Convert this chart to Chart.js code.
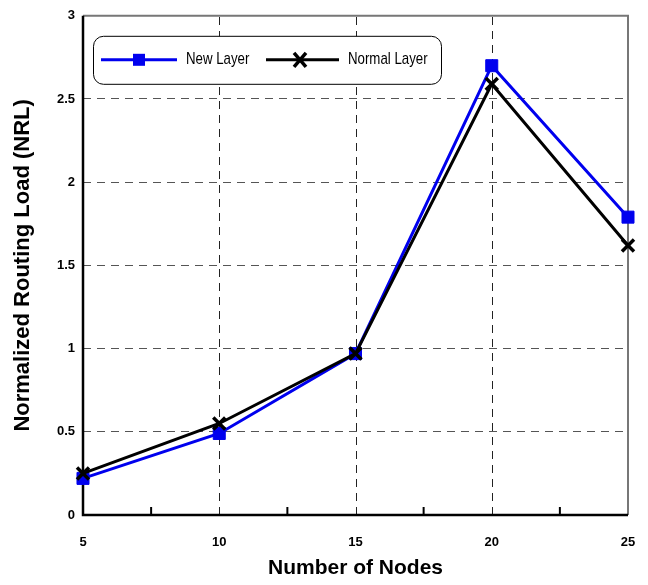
<!DOCTYPE html>
<html>
<head>
<meta charset="utf-8">
<script src="https://cdn.jsdelivr.net/npm/chart.js@4"></script>
<style>
  html, body { margin: 0; padding: 0; background: #fff; }
  #wrap { width: 648px; height: 585px; }
</style>
</head>
<body>
<div id="wrap"><canvas id="nrlChart"></canvas></div>
<script>
const nodes = [5, 10, 15, 20, 25];
const newLayer = [0.22, 0.49, 0.97, 2.70, 1.79];
const normalLayer = [0.25, 0.55, 0.97, 2.59, 1.62];
const seriesNames = ['New Layer', 'Normal Layer'];
const xLabels = [5, 10, 15, 20, 25];

const BLUE = '#0000ee';

// narrow text helper (no condensed font installed)
function narrowText(ctx, txt, x, y, sx) {
  ctx.save();
  ctx.translate(x, y);
  ctx.scale(sx, 1);
  ctx.fillText(txt, 0, 0);
  ctx.restore();
}

// frame, inward x ticks and the in-plot legend
const framePlugin = {
  id: 'frame',
  beforeDatasetsDraw(chart) {
    const { ctx, chartArea: a, scales } = chart;
    ctx.save();
    // dashed vertical grid at major ticks
    ctx.strokeStyle = '#222';
    ctx.lineWidth = 1;
    ctx.setLineDash([8, 6]);
    [10, 15, 20].forEach(v => {
      const x = Math.round(scales.x.getPixelForValue(v)) + 0.5;
      ctx.beginPath();
      ctx.moveTo(x, a.bottom);
      ctx.lineTo(x, a.top);
      ctx.stroke();
    });
    ctx.setLineDash([]);
    // top and right border
    ctx.strokeStyle = '#777';
    ctx.lineWidth = 2;
    ctx.beginPath();
    ctx.moveTo(a.left, a.top);
    ctx.lineTo(a.right, a.top);
    ctx.lineTo(a.right, a.bottom);
    ctx.stroke();
    // left and bottom axis
    ctx.strokeStyle = '#000';
    ctx.lineWidth = 2.5;
    ctx.beginPath();
    ctx.moveTo(a.left, a.top);
    ctx.lineTo(a.left, a.bottom);
    ctx.lineTo(a.right, a.bottom);
    ctx.stroke();
    // minor tick marks pointing up
    ctx.lineWidth = 2;
    [7.5, 12.5, 17.5, 22.5].forEach(v => {
      const x = scales.x.getPixelForValue(v);
      ctx.beginPath();
      ctx.moveTo(x, a.bottom);
      ctx.lineTo(x, a.bottom - 8);
      ctx.stroke();
    });
    ctx.restore();
  },
  afterDraw(chart) {
    const { ctx, chartArea: a } = chart;
    const bx = a.left + 10, by = a.top + 20, bw = 348, bh = 48;
    ctx.save();
    ctx.fillStyle = '#fff';
    ctx.strokeStyle = '#000';
    ctx.lineWidth = 1;
    ctx.beginPath();
    ctx.roundRect(bx + 0.5, by + 0.5, bw, bh, 10);
    ctx.fill();
    ctx.stroke();
    const cy = by + bh / 2;
    ctx.font = '17px "Liberation Sans", Arial, sans-serif';
    ctx.textBaseline = 'middle';
    // new layer entry
    ctx.strokeStyle = BLUE;
    ctx.lineWidth = 3;
    ctx.beginPath();
    ctx.moveTo(bx + 8, cy);
    ctx.lineTo(bx + 84, cy);
    ctx.stroke();
    ctx.fillStyle = BLUE;
    ctx.fillRect(bx + 40, cy - 6, 12, 12);
    ctx.fillStyle = '#000';
    narrowText(ctx, seriesNames[0], bx + 93, cy, 0.78);
    // normal layer entry
    ctx.strokeStyle = '#000';
    ctx.beginPath();
    ctx.moveTo(bx + 173, cy);
    ctx.lineTo(bx + 246, cy);
    ctx.stroke();
    ctx.lineWidth = 3.5;
    ctx.beginPath();
    ctx.moveTo(bx + 201, cy - 7); ctx.lineTo(bx + 213, cy + 7);
    ctx.moveTo(bx + 213, cy - 7); ctx.lineTo(bx + 201, cy + 7);
    ctx.stroke();
    narrowText(ctx, seriesNames[1], bx + 255, cy, 0.78);
    ctx.restore();
  }
};

const ctx = document.getElementById('nrlChart').getContext('2d');
const nrlChart = new Chart(ctx, {
  type: 'line',
  data: {
    datasets: [{
      label: seriesNames[1],
      data: nodes.map((n, i) => ({ x: n, y: normalLayer[i] })),
      borderColor: '#000',
      backgroundColor: '#000',
      borderWidth: 3,
      pointStyle: 'crossRot',
      pointRadius: 8.5,
      pointBorderWidth: 3.5,
      tension: 0,
      clip: false,
      order: 1
    }, {
      label: seriesNames[0],
      data: nodes.map((n, i) => ({ x: n, y: newLayer[i] })),
      borderColor: BLUE,
      backgroundColor: BLUE,
      borderWidth: 3,
      pointStyle: 'rect',
      pointRadius: 8.5,
      pointBorderWidth: 1,
      tension: 0,
      clip: false,
      order: 2
    }]
  },
  options: {
    responsive: true,
    maintainAspectRatio: false,
    animation: false,
    layout: { padding: { top: 12, right: 20, left: 6, bottom: 0 } },
    plugins: {
      legend: { display: false },
      tooltip: { enabled: false }
    },
    scales: {
      x: {
        type: 'linear',
        min: 5,
        max: 25,
        afterBuildTicks(scale) {
          scale.ticks = xLabels.map(v => ({ value: v }));
        },
        grid: { display: false },
        border: { display: false },
        ticks: {
          color: '#000',
          padding: 12,
          font: { family: '"Liberation Sans", Arial, sans-serif', size: 13, weight: 'bold' }
        },
        title: {
          display: true,
          text: 'Number of Nodes',
          color: '#000',
          padding: { top: 12 },
          font: { family: '"Liberation Sans", Arial, sans-serif', size: 21, weight: 'bold' }
        },
        afterFit(scale) { scale.height = 70; }
      },
      y: {
        min: 0,
        max: 3,
        ticks: {
          stepSize: 0.5,
          color: '#000',
          padding: 8,
          callback: v => String(v),
          font: { family: '"Liberation Sans", Arial, sans-serif', size: 13, weight: 'bold' }
        },
        grid: {
          drawTicks: false,
          lineWidth: 1,
          color: c => (c.tick.value === 0 || c.tick.value === 3) ? 'rgba(0,0,0,0)' : '#555'
        },
        border: { display: false, dash: [8, 6] },
        title: {
          display: true,
          text: 'Normalized Routing Load (NRL)',
          color: '#000',
          padding: { bottom: 14 },
          font: { family: '"Liberation Sans", Arial, sans-serif', size: 22, weight: 'bold' }
        },
        afterFit(scale) { scale.width = 77; }
      }
    }
  },
  plugins: [framePlugin]
});
</script>
</body>
</html>
